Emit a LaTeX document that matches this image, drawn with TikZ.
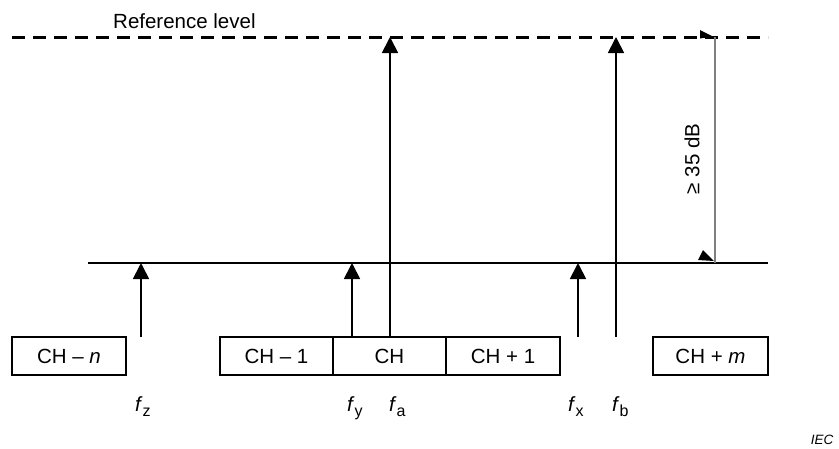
\documentclass[tikz,border=0pt]{standalone}
\usepackage{fontspec}
\setmainfont{Liberation Sans}
\usetikzlibrary{arrows.meta}
\definecolor{dimgray}{HTML}{7F7F7F}
\newcommand\freqlab[1]{\textit{f}\raisebox{-5pt}{\fontsize{16}{18}\selectfont #1}}
\begin{document}
\begin{tikzpicture}[x=1pt,y=-1pt,
  font=\fontsize{20.5}{24}\selectfont,
  chbox/.style={draw,line width=1.8pt,minimum height=38pt,inner sep=0pt,outer sep=0pt,anchor=center},
  sig/.style={line width=1.8pt,-{Triangle[length=16pt,width=16pt]}},
  flab/.style={anchor=base west,inner sep=0pt},
  level/.style={line width=1.8pt},
  reflevel/.style={line width=3pt,dash pattern=on 13pt off 8pt},
  dimline/.style={line width=1.8pt,draw=dimgray}]
\useasboundingbox (0,0) rectangle (839,448);

% horizontal levels
\coordinate (refL) at (12,37);
\coordinate (refR) at (768,37);
\coordinate (limL) at (88,263);
\coordinate (limR) at (768,263);
\draw[reflevel] (refL) -- (refR);
\draw[level] (limL) -- (limR);
\node[anchor=base west,inner sep=0pt] (reftext) at (113,28) {Reference level};

% channel boxes
\node[chbox,minimum width=114pt] (chn) at (69,356) {CH – \textit{n}};
\node[chbox,minimum width=113pt] (ch1m) at (276.5,356) {CH – 1};
\node[chbox,minimum width=113pt] (ch) at (389.5,356) {CH};
\node[chbox,minimum width=114pt] (ch1p) at (503,356) {CH + 1};
\node[chbox,minimum width=115pt] (chm) at (710.5,356) {CH + \textit{m}};

% signal arrows
\coordinate (zb) at (141,337);  \coordinate (zt) at (141,263);
\coordinate (yb) at (352,337);  \coordinate (yt) at (352,263);
\coordinate (ab) at (390,337);  \coordinate (at) at (390,37);
\coordinate (xb) at (578,337);  \coordinate (xt) at (578,263);
\coordinate (bb) at (616,337);  \coordinate (bt) at (616,37);
\draw[sig] (zb) -- (zt);
\draw[sig] (yb) -- (yt);
\draw[sig] (ab) -- (at);
\draw[sig] (xb) -- (xt);
\draw[sig] (bb) -- (bt);

% frequency labels
\node[flab] (fz) at (135,411) {\freqlab{z}};
\node[flab] (fy) at (347,411) {\freqlab{y}};
\node[flab] (fa) at (389,411) {\freqlab{a}};
\node[flab] (fx) at (568,411) {\freqlab{x}};
\node[flab] (fb) at (612,411) {\freqlab{b}};

% dimension
\coordinate (dT) at (715,37);
\coordinate (dB) at (715,263);
\draw[dimline] (dT) -- (dB);
\fill (700,30) -- (713,36.5) -- (700,38.5) -- cycle;
\fill (703,250) -- (714,261) -- (698,260) -- cycle;
\node[rotate=90,inner sep=0pt] (dimtext) at (692,159) {≥ 35 dB};

% IEC
\node[inner sep=0pt,font=\fontsize{13.5}{16}\selectfont\itshape] (iec) at (822,440) {IEC};
\end{tikzpicture}
\end{document}
